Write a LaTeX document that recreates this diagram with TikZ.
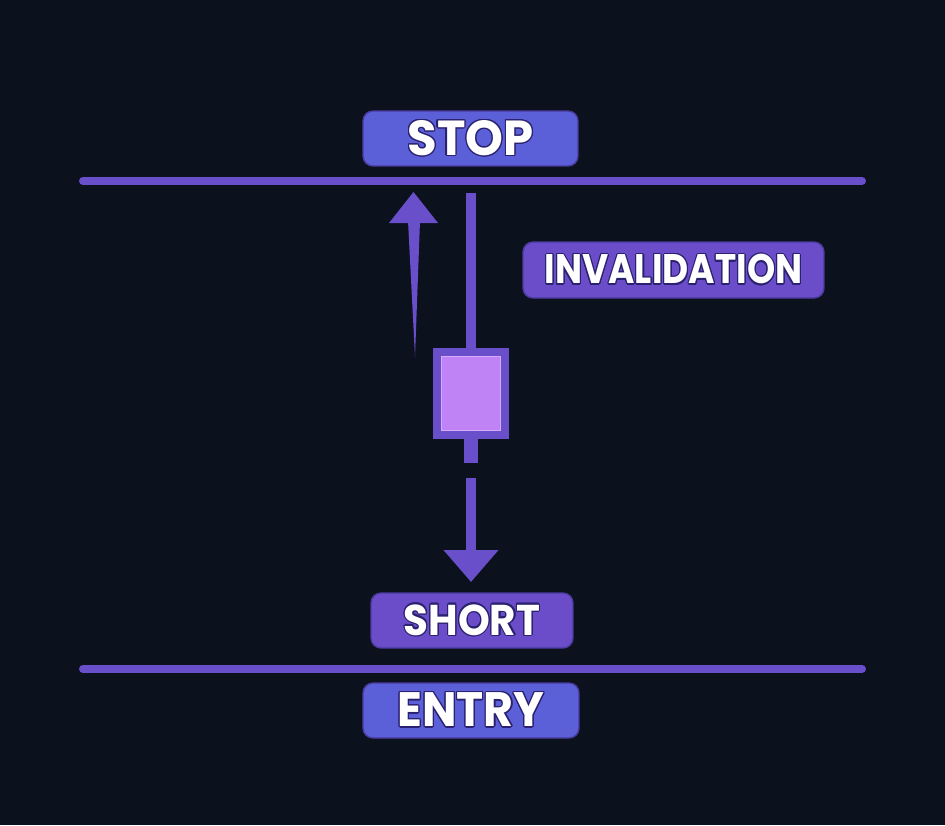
\documentclass[tikz,border=0pt]{standalone}
\usepackage{fontspec}
\setmainfont{Poppins}
\usepackage{graphicx}
\usepackage[copies]{contour}
\usetikzlibrary{arrows.meta}
\contourlength{0.7pt}
\definecolor{bgnavy}{HTML}{0B111D}
\definecolor{linepurple}{HTML}{6A4FCB}
\definecolor{tagblue}{HTML}{5B5FD8}
\definecolor{tagpurple}{HTML}{6B4CC9}
\definecolor{tagedge}{HTML}{4A3C9E}
\definecolor{corelilac}{HTML}{C083F5}
\definecolor{coreedge}{HTML}{D9A8FF}
\definecolor{inkdark}{HTML}{2A2170}
% size, horizontal squeeze, text
\newcommand{\tagtext}[3]{\scalebox{#2}[1]{\fontsize{#1}{#1}\selectfont\bfseries\contour{inkdark}{#3}}}
\tikzset{
  tag/.style={rounded corners=0.2cm, draw=tagedge, line width=0.8pt, text=white, inner sep=0pt},
  level/.style={linepurple, line width=0.16cm, line cap=round},
  wick/.style={linepurple, line width=0.2cm}
}
\begin{document}
\begin{tikzpicture}[x=0.02cm, y=-0.02cm]
      \fill [bgnavy] (0, 0) rectangle (945, 825);
      \useasboundingbox (0, 0) rectangle (945, 825);
      % price levels
      \coordinate (stopL) at (83, 181);
      \coordinate (stopR) at (862, 181);
      \coordinate (entryL) at (83, 669);
      \coordinate (entryR) at (862, 669);
      \draw [level] (stopL) -- (stopR);
      \draw [level] (entryL) -- (entryR);
      % labels
      \node (stop) [tag, fill=tagblue, minimum width=4.3cm, minimum height=1.1cm] at (470.5, 138.5) {\tagtext{28}{0.98}{STOP}};
      \node (inval) [tag, fill=tagpurple, minimum width=6.02cm, minimum height=1.12cm] at (673.5, 270) {\tagtext{23.5}{0.87}{INVALIDATION}};
      \node (short) [tag, fill=tagpurple, minimum width=4.04cm, minimum height=1.1cm] at (472, 620.5) {\tagtext{24.5}{0.94}{SHORT}};
      \node (entry) [tag, fill=tagblue, minimum width=4.32cm, minimum height=1.1cm] at (471, 710.5) {\tagtext{27.5}{0.95}{ENTRY}};
      % candle
      \coordinate (wicktop) at (471, 193);
      \coordinate (wickbot) at (471, 463);
      \node (body) [fill=linepurple, minimum width=1.52cm, minimum height=1.82cm, inner sep=0pt] at (471, 393.5) {};
      \draw [wick] (wicktop) -- (body.north);
      \draw [wick, line width=0.28cm] (body.south) -- (wickbot);
      \node (core) [fill=corelilac, draw=coreedge, line width=0.6pt, minimum width=1.18cm, minimum height=1.48cm, inner sep=0pt] at (body.center) {};
      % move down
      \coordinate (dropA) at (471, 478);
      \coordinate (dropB) at (471, 582);
      \draw [wick, -{Triangle[width=1.06cm, length=0.64cm]}] (dropA) -- (dropB);
      % tapered move up
      \fill [linepurple] (415, 357) -- (408, 221) -- (420, 221) -- cycle;
      \fill [linepurple] (389, 223) -- (413.5, 192) -- (438, 223) -- cycle;
    \end{tikzpicture}
\end{document}
